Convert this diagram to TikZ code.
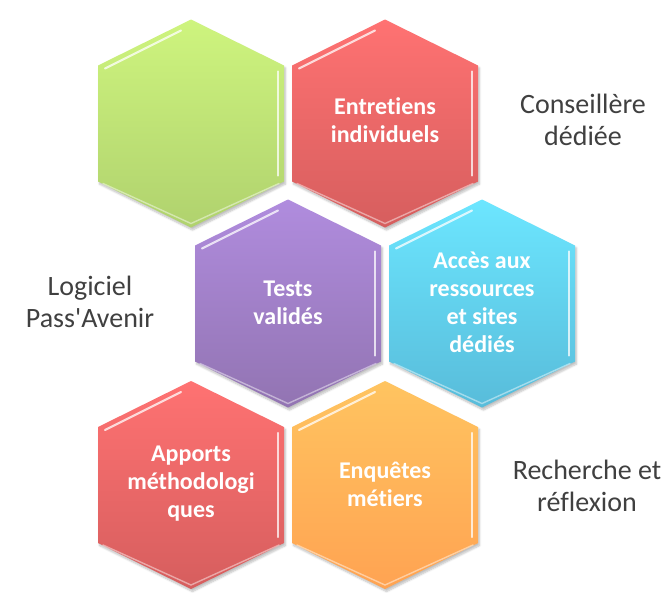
\documentclass[tikz,border=0pt]{standalone}
\usepackage{fontspec}
\setmainfont{Carlito}[Ligatures={NoCommon}]
\usetikzlibrary{calc,shadows.blur}

\definecolor{greenT}{RGB}{206,244,126}
\definecolor{greenB}{RGB}{176,210,110}
\definecolor{redT}{RGB}{255,114,114}
\definecolor{redB}{RGB}{214,94,94}
\definecolor{purpleT}{RGB}{176,140,222}
\definecolor{purpleB}{RGB}{146,116,178}
\definecolor{cyanT}{RGB}{108,230,255}
\definecolor{cyanB}{RGB}{88,188,218}
\definecolor{orangeT}{RGB}{255,196,96}
\definecolor{orangeB}{RGB}{255,163,82}
\definecolor{labelgray}{RGB}{64,64,64}

\tikzset{
  hexfill/.style={blur shadow={shadow xshift=1.5pt, shadow yshift=-2.5pt,
      shadow blur steps=6, shadow opacity=25}},
  bevel/.style={white, opacity=0.75, line width=2.2pt, line cap=round},
  bevelsoft/.style={white, opacity=0.45, line width=1.4pt, line cap=round},
  hextext/.style={text=white, inner sep=0pt, align=center,
      font=\bfseries\fontsize{24}{28}\selectfont},
  sidetext/.style={text=labelgray, inner sep=0pt, align=center,
      font=\fontsize{28}{32}\selectfont}
}

% hexagon cell: centre, top colour, bottom colour
\newcommand\hexcell[3]{%
  \path[hexfill, top color=#2, bottom color=#3]
    ($(#1)+(0,-104)$) -- ($(#1)+(93,-58)$) -- ($(#1)+(93,58)$) --
    ($(#1)+(0,104)$) -- ($(#1)+(-93,58)$) -- ($(#1)+(-93,-58)$) -- cycle;
  \draw[bevel] ($(#1)+(-86,-55)$) -- ($(#1)+(-10,-93)$);
  \draw[bevel] ($(#1)+(87,-52)$) -- ($(#1)+(87,52)$);
  \draw[bevelsoft] ($(#1)+(-88,60)$) -- ($(#1)+(0,100)$) -- ($(#1)+(88,60)$);
}

\begin{document}
\begin{tikzpicture}[x=1pt, y=-1pt]

\useasboundingbox (0,0) rectangle (667,592);

% centres des alvéoles
\coordinate (G) at (191,123.5);
\coordinate (E) at (385,123.5);
\coordinate (T) at (288,303.5);
\coordinate (A) at (482,303.5);
\coordinate (M) at (191,485);
\coordinate (Q) at (385,485);

% alvéoles
\hexcell{G}{greenT}{greenB}
\hexcell{E}{redT}{redB}
\hexcell{T}{purpleT}{purpleB}
\hexcell{A}{cyanT}{cyanB}
\hexcell{M}{redT}{redB}
\hexcell{Q}{orangeT}{orangeB}

% textes des alvéoles
\node[hextext] (entretiens) at ($(E)+(0,-3)$) {Entretiens\\individuels};
\node[hextext] (tests) at ($(T)+(0,-1)$) {Tests\\validés};
\node[hextext] (acces) at ($(A)+(0,-1)$) {Accès aux\\ressources\\et sites\\dédiés};
\node[hextext] (apports) at ($(M)+(0,-1)$) {Apports\\méthodologi\\ques};
\node[hextext] (enquetes) at ($(Q)+(0,-1)$) {Enquêtes\\métiers};

% textes latéraux
\node[sidetext] (conseillere) at (583,120) {Conseillère\\dédiée};
\node[sidetext] (logiciel) at (90,302) {Logiciel\\Pass\textquotesingle Avenir};
\node[sidetext] (recherche) at (587,486) {Recherche et\\réflexion};

\end{tikzpicture}
\end{document}
